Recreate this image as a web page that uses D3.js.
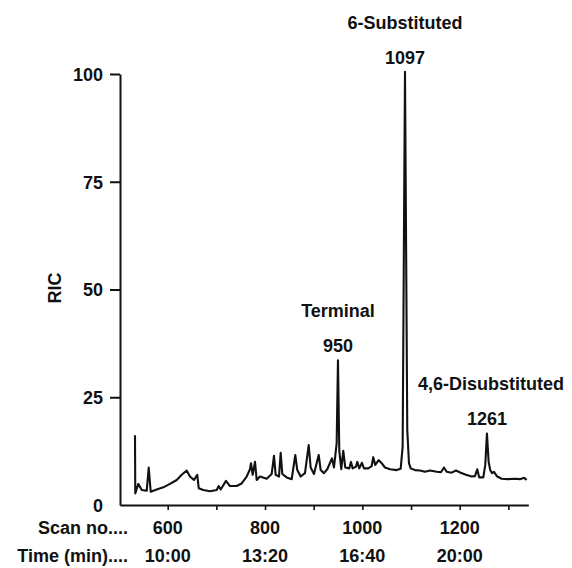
<!DOCTYPE html>
<html>
<head>
<meta charset="utf-8">
<script src="https://cdn.jsdelivr.net/npm/d3@7"></script>
<style>
  body { margin: 0; background: #fff; }
  svg text { font-family: "Liberation Sans", Arial, sans-serif; font-weight: bold; font-size: 18px; fill: #111; }
</style>
</head>
<body>
<svg></svg>
<script>
// trace: scan number / relative ion current
var scans = [532.8, 533.4, 539.6, 546.6, 556.9, 561, 565.1, 577.4, 591, 604.7,
  618.5, 628.8, 639, 645.8, 654, 660.8, 663.7, 673.1, 686.9, 700.7,
  704.8, 708.9, 719.8, 728, 741.8, 752, 762.3, 769.1, 771.2, 774.6,
  779.4, 782.9, 789.6, 803.4, 813.7, 818.4, 821.9, 828.7, 832.2, 835.5,
  844.5, 854.8, 862.2, 866.3, 873.3, 882.1, 889.7, 893.8, 900.6, 910.3,
  914.4, 921.1, 927.9, 937.6, 941.7, 947.2, 949.9, 952.6, 956.7, 960.8,
  964.9, 973.1, 976.6, 980.1, 986.9, 989.6, 993.7, 999.2, 1003.3, 1012.2,
  1019.1, 1022.4, 1026.5, 1033.5, 1039.7, 1046.5, 1056.8, 1070.5, 1078.7, 1082.8,
  1087.6, 1092.3, 1095.8, 1099.3, 1108.1, 1118.4, 1128.7, 1138.9, 1152.7, 1161.5,
  1167.7, 1173.2, 1183.5, 1192.4, 1202, 1212.9, 1224.6, 1231.4, 1236.1, 1240.2,
  1248.5, 1252.6, 1256, 1259.5, 1262.8, 1266.3, 1270.4, 1277.2, 1286.3, 1299.8,
  1313.6, 1323.9, 1332.7, 1337.6];
var ric = [16.2, 2.7, 4.9, 3.5, 3.3, 8.7, 3.1, 3.6, 4.1, 4.9,
  5.8, 7.0, 8.0, 6.6, 5.8, 7.0, 3.9, 3.5, 3.2, 3.5,
  4.4, 3.6, 5.6, 4.4, 4.4, 5.0, 6.6, 8.3, 9.7, 7.0,
  10.0, 5.8, 6.6, 6.1, 7.2, 11.4, 7.0, 6.6, 12.1, 7.2,
  6.4, 6.0, 11.6, 8.1, 6.6, 7.4, 13.9, 8.7, 7.2, 11.6,
  8.1, 7.4, 8.3, 10.8, 8.7, 14.3, 33.6, 12.6, 8.3, 12.6,
  8.7, 8.5, 10.0, 8.5, 8.9, 10.0, 8.5, 9.8, 8.5, 8.5,
  9.0, 11.1, 9.3, 10.4, 9.7, 8.7, 8.3, 8.1, 8.4, 13.5,
  100.5, 17.4, 9.7, 8.5, 8.1, 8.0, 7.7, 8.0, 7.7, 7.6,
  8.7, 7.7, 7.5, 8.0, 7.5, 7.0, 6.6, 6.7, 8.3, 6.4,
  6.4, 9.3, 16.6, 10.0, 8.1, 7.4, 7.7, 6.6, 6.1, 6.0,
  6.1, 6.0, 6.3, 5.8];

var scanTicks = [600, 700, 800, 900, 1000, 1100, 1200, 1300];
var scanLabels = [600, 800, 1000, 1200];
var timeLabels = ["10:00", "13:20", "16:40", "20:00"];
var ricTicks = [0, 25, 50, 75, 100];

var peakNames = ["Terminal", "6-Substituted", "4,6-Disubstituted"];
var peakLabels = ["950", "1097", "1261"];
var peakIndex = [56, 80, 102];

var svgWidth = 572, svgHeight = 568;

var svg = d3.select("svg")
    .attr("width", svgWidth)
    .attr("height", svgHeight);

var xScale = d3.scaleLinear()
    .domain([502, 1341])
    .range([120, 528.3]);

var yScale = d3.scaleLinear()
    .domain([0, 100])
    .range([505, 74]);

// y axis, no tick on the 0
var yAxis = svg.append("g")
    .attr("transform", "translate(120,0)")
    .call(d3.axisLeft(yScale).tickValues(ricTicks).tickSize(10).tickSizeOuter(0).tickPadding(7));
yAxis.select(".domain").attr("stroke", "#111").attr("stroke-width", 2);
yAxis.selectAll(".tick line").attr("stroke", "#111").attr("stroke-width", 2)
    .filter(function(d) { return d === 0; }).remove();
yAxis.selectAll(".tick text").attr("font-size", null).attr("font-family", null)
    .attr("dy", "0.36em");

var xAxis = svg.append("g")
    .attr("transform", "translate(0,505)")
    .call(d3.axisBottom(xScale).tickValues(scanTicks).tickSize(5).tickSizeOuter(0).tickFormat(""));
xAxis.select(".domain").attr("stroke", "#111").attr("stroke-width", 2);
xAxis.selectAll(".tick line").attr("stroke", "#111").attr("stroke-width", 1.6);

svg.selectAll("text.scan")
    .data(scanLabels)
    .enter()
    .append("text")
    .attr("class", "scan")
    .attr("x", function(d) { return xScale(d); })
    .attr("y", 534)
    .attr("text-anchor", "middle")
    .text(function(d) { return d; });

svg.selectAll("text.time")
    .data(timeLabels)
    .enter()
    .append("text")
    .attr("class", "time")
    .attr("x", function(d, i) { return xScale(scanLabels[i]); })
    .attr("y", 562)
    .attr("text-anchor", "middle")
    .text(function(d) { return d; });

svg.append("text").attr("x", 128).attr("y", 534).attr("text-anchor", "end").text("Scan no....");
svg.append("text").attr("x", 128).attr("y", 562).attr("text-anchor", "end").text("Time (min)....");

svg.append("text")
    .attr("transform", "translate(61,288) rotate(-90)")
    .attr("text-anchor", "middle")
    .text("RIC");

var line = d3.line()
    .x(function(d) { return xScale(d); })
    .y(function(d, i) { return yScale(ric[i]); });

svg.append("path")
    .datum(scans)
    .attr("d", line)
    .attr("fill", "none")
    .attr("stroke", "#111")
    .attr("stroke-width", 2.1)
    .attr("stroke-linejoin", "round");

// peak annotations
var notes = svg.selectAll("g.note")
    .data(peakIndex)
    .enter()
    .append("g")
    .attr("class", "note")
    .attr("transform", function(d) {
        return "translate(" + xScale(scans[d]) + "," + (yScale(ric[d]) - 8) + ")";
    });

notes.append("text")
    .attr("text-anchor", "middle")
    .text(function(d, i) { return peakLabels[i]; });

notes.append("text")
    .attr("text-anchor", "middle")
    .attr("y", -35)
    .attr("x", function(d, i) { return i === 2 ? 4 : 0; })
    .text(function(d, i) { return peakNames[i]; });
</script>
</body>
</html>
